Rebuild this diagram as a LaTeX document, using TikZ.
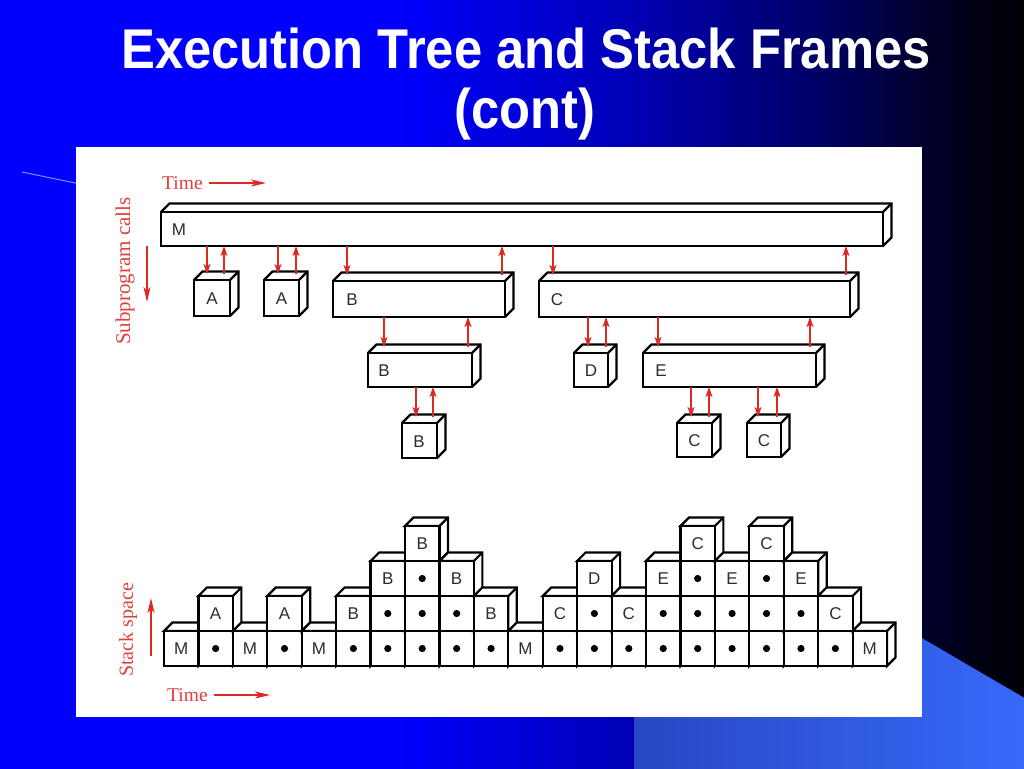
\documentclass[tikz,border=0pt]{standalone}
\usepackage{fontspec}
\usepackage{graphicx}
\setmainfont{Liberation Serif}
\newfontfamily\sansf{Liberation Sans}
\usetikzlibrary{arrows.meta,calc}
\definecolor{arrred}{RGB}{222,40,36}
\definecolor{txtred}{RGB}{224,64,60}
\definecolor{bgA}{RGB}{0,0,252}
\definecolor{bgB}{RGB}{0,0,185}
\definecolor{bgC}{RGB}{0,0,110}
\definecolor{bgD}{RGB}{0,0,30}
\definecolor{bgE}{RGB}{0,0,2}
\definecolor{lbA}{RGB}{40,72,195}
\definecolor{lbB}{RGB}{55,105,250}
\definecolor{lineblue}{RGB}{110,150,255}
\definecolor{lblgray}{RGB}{45,45,45}
\newcommand\dt{\tikz\fill[black] (0,0) circle (3.6pt);}
\newcommand\mkframe[7]{%
  \node[frontface, minimum width={#4-#2}, minimum height={#5-#3}, anchor=north west] (#1) at (#2,#3) {};
  \draw[edge] (#1.north west) -- ++(8.5,-8.5) -- ($(#1.north east)+(8.5,-8.5)$) -- ($(#1.south east)+(8.5,-8.5)$) -- (#1.south east);
  \draw[edge] (#1.north east) -- ++(8.5,-8.5);
  \node[boxlbl] (#1-l) at ($(#1.west)+(#7,1)$) {#6};
}
\newcommand\callpair[4]{%
  \draw[callarr] (#1.south -| #3,0) -- ($(#2.north -| #3,0)+(0,-6)$);
  \draw[callarr] ($(#2.north -| #4,0)+(0,-6)$) -- (#1.south -| #4,0);
}
\begin{document}
\begin{tikzpicture}[x=1pt,y=-1pt,
  edge/.style={line width=2.2pt, black},
  frontface/.style={draw=black, line width=2.2pt, fill=white, inner sep=0pt, outer sep=0pt},
  boxlbl/.style={font=\sansf\fontsize{17}{17}\selectfont, text=lblgray, inner sep=0pt},
  cellfront/.style={draw=black, line width=2.2pt, fill=white, inner sep=0pt, outer sep=0pt,
     minimum width=34.43pt, minimum height=35pt, font=\sansf\fontsize{17}{17}\selectfont, text=lblgray},
  face/.style={draw=black, fill=white, line width=2.2pt},
  callarr/.style={draw=arrred, line width=1.3pt, -{Stealth[length=10pt,width=7pt,inset=2.5pt]}},
  timearr/.style={draw=arrred, line width=1.3pt, -{Stealth[length=15pt,width=7pt,inset=4pt]}},
  redlbl/.style={text=txtred, inner sep=0pt},
  titletext/.style={text=white, font=\sansf\bfseries\fontsize{56}{60}\selectfont, inner sep=0pt}]
\useasboundingbox (0,0) rectangle (1024,768);
% background
\fill[bgA] (-4,-4) rectangle (401,772);
\shade[left color=bgA, right color=bgB] (400,-4) rectangle (621,772);
\shade[left color=bgB, right color=bgC] (620,-4) rectangle (801,772);
\shade[left color=bgC, right color=bgD] (800,-4) rectangle (951,772);
\shade[left color=bgD, right color=bgE] (950,-4) rectangle (1028,772);
\shade[left color=lbA, right color=lbB] (634,772) -- (634,630) -- (908,630) -- (1028,700) -- (1028,772) -- cycle;
\draw[lineblue, line width=1pt] (22,172) -- (80,184);
% white panel
\fill[white] (76,147) rectangle (922,717);
% title
\node[titletext, anchor=base] (title1) at (526,68) {\scalebox{0.906}[1]{Execution Tree and Stack Frames}};
\node[titletext, anchor=base] (title2) at (525,128) {\scalebox{0.906}[1]{(cont)}};
% axis labels
\node[redlbl, anchor=west, font=\fontsize{19.5}{20}\selectfont] (time1) at (162,183) {Time};
\coordinate (time1end) at (266,183);
\draw[timearr] ([xshift=6pt]time1.east) -- (time1end);
\node[redlbl, rotate=90, font=\fontsize{21}{21}\selectfont] (subcalls) at (125,271) {Subprogram calls};
\coordinate (subA) at (147,246);
\coordinate (subB) at (147,302);
\draw[timearr] (subA) -- (subB);
\node[redlbl, rotate=90, font=\fontsize{20}{20}\selectfont] (stackspace) at (128,630) {Stack space};
\coordinate (stA) at (151,656);
\coordinate (stB) at (151,598);
\draw[timearr] (stA) -- (stB);
\node[redlbl, anchor=west, font=\fontsize{19.5}{20}\selectfont] (time2) at (167,695) {Time};
\coordinate (time2end) at (270,695);
\draw[timearr] ([xshift=6pt]time2.east) -- (time2end);
% execution tree
\mkframe{M}{161}{212}{883}{246}{M}{18}
\mkframe{A1}{194}{280}{230}{316}{A}{18}
\mkframe{A2}{264}{280}{299}{316}{A}{17.5}
\mkframe{B1}{333}{281}{505}{317}{B}{19}
\mkframe{C1}{539}{281}{850}{317}{C}{18}
\mkframe{B2}{368}{353}{472}{387}{B}{16}
\mkframe{D}{574}{353}{608}{387}{D}{17}
\mkframe{E}{643}{353}{816}{387}{E}{18}
\mkframe{B3}{402}{423}{437}{458}{B}{17}
\mkframe{C2}{677}{423}{712}{457}{C}{17.5}
\mkframe{C3}{747}{423}{781}{457}{C}{17}
\callpair{M}{A1}{207}{224}
\callpair{M}{A2}{278}{296}
\callpair{M}{B1}{347}{502}
\callpair{M}{C1}{553}{846}
\callpair{B1}{B2}{384}{468}
\callpair{B2}{B3}{416}{433}
\callpair{C1}{D}{588}{606}
\callpair{C1}{E}{658}{810}
\callpair{E}{C2}{691}{709}
\callpair{E}{C3}{758}{777}
% stack frames
\foreach \c/\r/\lab in {
  1/1/M,
  2/1/\dt, 2/2/A,
  3/1/M,
  4/1/\dt, 4/2/A,
  5/1/M,
  6/1/\dt, 6/2/B,
  7/1/\dt, 7/2/\dt, 7/3/B,
  8/1/\dt, 8/2/\dt, 8/3/\dt, 8/4/B,
  9/1/\dt, 9/2/\dt, 9/3/B,
  10/1/\dt, 10/2/B,
  11/1/M,
  12/1/\dt, 12/2/C,
  13/1/\dt, 13/2/\dt, 13/3/D,
  14/1/\dt, 14/2/C,
  15/1/\dt, 15/2/\dt, 15/3/E,
  16/1/\dt, 16/2/\dt, 16/3/\dt, 16/4/C,
  17/1/\dt, 17/2/\dt, 17/3/E,
  18/1/\dt, 18/2/\dt, 18/3/\dt, 18/4/C,
  19/1/\dt, 19/2/\dt, 19/3/E,
  20/1/\dt, 20/2/C,
  21/1/M}{
  \pgfmathsetmacro\xa{164+(\c-1)*34.43}
  \pgfmathsetmacro\ya{631-(\r-1)*35}
  \filldraw[face] (\xa,\ya) -- ++(8.5,-8.5) -- ++(34.43,0) -- ++(0,35) -- ++(-8.5,8.5) -- ++(0,-35) -- cycle;
  \node[cellfront, anchor=north west] (s\c-\r) at (\xa,\ya) {\lab};
  \draw[edge] (s\c-\r.north east) -- ++(8.5,-8.5);
}
\end{tikzpicture}
\end{document}
